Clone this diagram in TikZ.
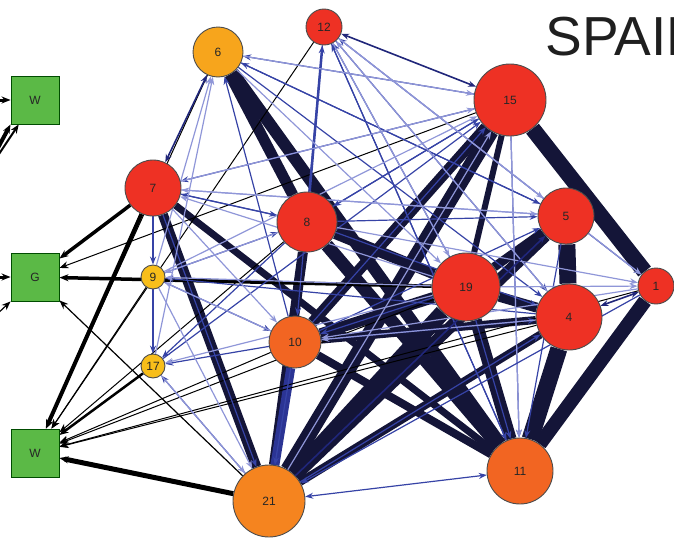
\documentclass[tikz,border=0pt]{standalone}
\usepackage{fontspec}
\setmainfont{Liberation Sans}
\usetikzlibrary{arrows.meta}
\definecolor{navy}{HTML}{141538}
\definecolor{dblue}{HTML}{20267A}
\definecolor{mblue}{HTML}{3643A6}
\definecolor{lblue}{HTML}{8F96D8}
\definecolor{gblue}{HTML}{2B3494}
\definecolor{nred}{HTML}{EE3124}
\definecolor{norange}{HTML}{F26522}
\definecolor{norange2}{HTML}{F5841F}
\definecolor{nyellow}{HTML}{F7A51C}
\definecolor{nyellow2}{HTML}{F8BE1A}
\definecolor{ngreen}{HTML}{5BB946}
\pgfdeclarelayer{edges}
\pgfsetlayers{edges,main}
\tikzset{
  circ/.style={circle,draw=black!70,line width=0.9pt,inner sep=0pt,font=\fontsize{12}{12}\selectfont,text=black!85},
  sq/.style={rectangle,draw=black!70!green,line width=0.9pt,fill=ngreen,minimum size=48pt,inner sep=0pt,font=\fontsize{12}{12}\selectfont,text=black!85},
  band/.style={draw=navy},
  gband/.style={draw=gblue},
  bk/.style={draw=black,-{Stealth[length=9pt,width=7pt]}},
  db/.style={draw=dblue,line width=1.6pt,-{Stealth[length=8pt,width=6pt]}},
  mb/.style={draw=mblue,line width=1.2pt,-{Stealth[length=8pt,width=6pt]}},
  lb/.style={draw=lblue,line width=1.2pt,-{Stealth[length=8pt,width=6pt]}},
}
\begin{document}
\begin{tikzpicture}[x=1pt,y=-1pt]
\useasboundingbox (0,0) rectangle (674,538);
% nodes
\node[circ,fill=nyellow,minimum size=50pt] (n6) at (218,52) {6};
\node[circ,fill=nred,minimum size=36pt] (n12) at (324,27) {12};
\node[circ,fill=nred,minimum size=72pt] (n15) at (510,100) {15};
\node[circ,fill=nred,minimum size=56pt] (n7) at (153,188) {7};
\node[circ,fill=nred,minimum size=60pt] (n8) at (307,222) {8};
\node[circ,fill=nred,minimum size=56pt] (n5) at (566,216) {5};
\node[circ,fill=nyellow2,minimum size=24pt] (n9) at (153,277) {9};
\node[circ,fill=nyellow2,minimum size=24pt] (n17) at (153,366) {17};
\node[circ,fill=norange,minimum size=52pt] (n10) at (295,342) {10};
\node[circ,fill=nred,minimum size=68pt] (n19) at (466,287) {19};
\node[circ,fill=nred,minimum size=66pt] (n4) at (569,317) {4};
\node[circ,fill=nred,minimum size=36pt] (n1) at (656,286) {1};
\node[circ,fill=norange,minimum size=66pt] (n11) at (520,471) {11};
\node[circ,fill=norange2,minimum size=72pt] (n21) at (269,501) {21};
\node[sq] (W1) at (35,100) {W};
\node[sq] (G) at (35,277) {G};
\node[sq] (W2) at (35,453) {W};
\node[anchor=base west,font=\fontsize{55}{55}\selectfont,text=black!88] (title) at (542,55) {SPAIN};
% off-canvas ends
\coordinate (o1) at (-40,100);
\coordinate (o2) at (-30,200);
\coordinate (o3) at (-25,190);
\coordinate (o4) at (-40,277);
\coordinate (o5) at (-20,330);
\begin{pgfonlayer}{edges}
% thick bands
\foreach \a/\b/\w in {15/21/15,15/10/11,15/1/16,5/4/17,1/11/14,4/11/17,19/11/12,8/11/13,6/11/12,6/8/11,7/21/10,7/11/7,8/21/10,19/21/16,5/21/12,8/19/11,19/4/10,10/19/11,10/4/8,21/4/8,19/5/9,15/19/6,10/11/8}
  \draw[band,line width=\w pt] (n\a) -- (n\b);
\draw[gband,line width=9pt] (n10) -- (n21);
% black arrows
\foreach \a/\b/\w in {7/G/3.5,19/G/3.5,15/G/1,21/G/1.2,7/W2/4,6/W2/1,12/W2/1,9/W2/1,17/W2/2.5,10/W2/1,8/W2/1,4/W2/1,1/W2/1,21/W2/5,19/W2/1}
  \draw[bk,line width=\w pt] (n\a) -- (\b);
\draw[bk,line width=3pt] (o1) -- (W1);
\draw[bk,line width=4pt] (o2) -- (W1.south west);
\draw[bk,line width=2pt] (o3) -- (W1);
\draw[bk,line width=3pt] (o4) -- (G);
\draw[bk,line width=1.2pt] (o5) -- (G.south west);
% blue arrows
\draw[db,{Stealth[length=8pt,width=6pt]}-{Stealth[length=8pt,width=6pt]}] (n6) -- (n7);
\draw[db,{Stealth[length=8pt,width=6pt]}-{Stealth[length=8pt,width=6pt]}] (n15) -- (n12);
\draw[db,{Stealth[length=8pt,width=6pt]}-{Stealth[length=8pt,width=6pt]}] (n4) -- (n1);
\draw[mb,{Stealth[length=8pt,width=6pt]}-{Stealth[length=8pt,width=6pt]}] (n21) -- (n11);
\draw[mb,line width=2.5pt] (n8) -- (n12);
\foreach \a/\b in {10/6,15/6,5/6,19/12,5/12,11/12,8/7,15/7,7/9,9/17,10/17,8/17,21/17,9/10,19/10,7/21,10/21,8/5,10/5,5/1,12/4,8/4,10/4,21/4,6/4,12/11,19/11,5/11,8/15,10/15,17/15,7/8,9/8,15/8,6/5,12/10,15/11,4/9}
  \draw[mb] (n\a) -- (n\b);
\foreach \a/\b in {9/6,17/6,4/12,19/7,5/7,8/9,19/9,10/9,19/17,7/10,4/10,1/10,9/21,17/21,7/5,12/5,19/1,8/1,15/11,6/15,7/15,9/15,21/15,12/1,6/19,12/19}
  \draw[lb] (n\a) -- (n\b);
\draw[db] (n21) -- (n5);
\draw[mb] (n1) -- (n21);
\end{pgfonlayer}
\end{tikzpicture}
\end{document}
